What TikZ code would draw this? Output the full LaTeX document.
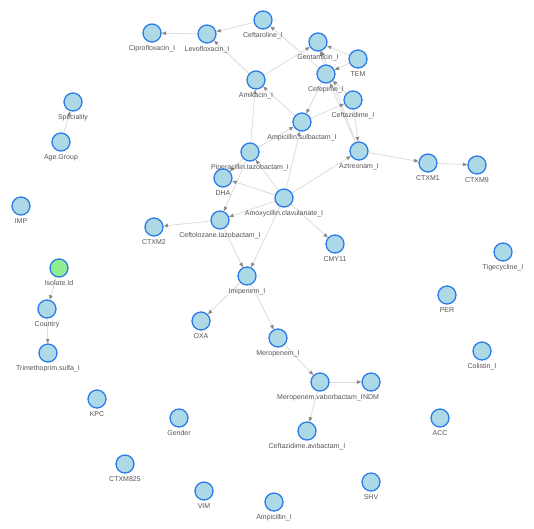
\documentclass[tikz,border=0pt]{standalone}
\usepackage{fontspec}
\setmainfont{Liberation Sans}
\usetikzlibrary{arrows.meta}
\definecolor{nfill}{HTML}{ADD8E6}
\definecolor{nborder}{HTML}{2B7CE9}
\definecolor{gfill}{HTML}{90EE90}
\definecolor{edgec}{HTML}{DCDCDC}
\definecolor{tipc}{HTML}{8A8A8A}
\definecolor{lblc}{HTML}{555555}
\pgfdeclarelayer{bg}
\pgfsetlayers{bg,main}
\begin{document}
\begin{tikzpicture}[x=1pt,y=-1pt,
  nd/.style={circle,draw=nborder,fill=nfill,line width=1.3pt,minimum size=18pt,inner sep=0pt},
  gnd/.style={nd,fill=gfill},
  lbl/.style={font=\fontsize{7}{8}\selectfont,text=lblc,inner sep=0pt,text height=5pt,text depth=1.5pt,label distance=3pt},
  ed/.style={draw=edgec,line width=0.8pt,-{Triangle[length=4.5pt,width=3.6pt,color=tipc]}}]
\useasboundingbox (0,0) rectangle (534,528);
\node[nd,label={[lbl]below:Ciprofloxacin\_I}] (cip) at (152,33) {};
\node[nd,label={[lbl]below:Levofloxacin\_I}] (levo) at (207,34) {};
\node[nd,label={[lbl]below:Ceftaroline\_I}] (ctar) at (263,20) {};
\node[nd,label={[lbl]below:Gentamicin\_I}] (gen) at (318,42) {};
\node[nd,label={[lbl]below:TEM}] (tem) at (358,59) {};
\node[nd,label={[lbl]below:Cefepime\_I}] (cfp) at (326,74) {};
\node[nd,label={[lbl]below:Amikacin\_I}] (ami) at (256,80) {};
\node[nd,label={[lbl]below:Ceftazidime\_I}] (cfz) at (353,100) {};
\node[nd,label={[lbl]below:Ampicillin.sulbactam\_I}] (amps) at (302,122) {};
\node[nd,label={[lbl]below:Piperacillin.tazobactam\_I}] (pip) at (250,152) {};
\node[nd,label={[lbl]below:Aztreonam\_I}] (azt) at (359,151) {};
\node[nd,label={[lbl]below:CTXM1}] (ctxma) at (428,163) {};
\node[nd,label={[lbl]below:CTXM9}] (ctxmb) at (477,165) {};
\node[nd,label={[lbl]below:DHA}] (dha) at (223,178) {};
\node[nd,label={[lbl]below:Amoxycillin.clavulanate\_I}] (amox) at (284,198) {};
\node[nd,label={[lbl]below:Ceftolozane.tazobactam\_I}] (ctol) at (220,220) {};
\node[nd,label={[lbl]below:CTXM2}] (ctxmc) at (154,227) {};
\node[nd,label={[lbl]below:CMY11}] (cmy) at (335,244) {};
\node[nd,label={[lbl]below:Imipenem\_I}] (imi) at (247,276) {};
\node[nd,label={[lbl]below:OXA}] (oxa) at (201,321) {};
\node[nd,label={[lbl]below:Meropenem\_I}] (mer) at (278,338) {};
\node[nd,label={[lbl]below:Meropenem.vaborbactam\_I}] (merv) at (320,382) {};
\node[nd,label={[lbl]below:NDM}] (ndm) at (371,382) {};
\node[nd,label={[lbl]below:Ceftazidime.avibactam\_I}] (cza) at (307,431) {};
\node[nd,label={[lbl]below:Speciality}] (spec) at (73,102) {};
\node[nd,label={[lbl]below:Age.Group}] (age) at (61,142) {};
\node[nd,label={[lbl]below:IMP}] (imp) at (21,206) {};
\node[gnd,label={[lbl]below:Isolate.Id}] (iso) at (59,268) {};
\node[nd,label={[lbl]below:Country}] (cty) at (47,309) {};
\node[nd,label={[lbl]below:Trimethoprim.sulfa\_I}] (tms) at (48,353) {};
\node[nd,label={[lbl]below:KPC}] (kpc) at (97,399) {};
\node[nd,label={[lbl]below:Gender}] (gend) at (179,418) {};
\node[nd,label={[lbl]below:CTXM825}] (ctxmd) at (125,464) {};
\node[nd,label={[lbl]below:VIM}] (vim) at (204,491) {};
\node[nd,label={[lbl]below:Ampicillin\_I}] (ampi) at (274,502) {};
\node[nd,label={[lbl]below:SHV}] (shv) at (371,482) {};
\node[nd,label={[lbl]below:ACC}] (acc) at (440,418) {};
\node[nd,label={[lbl]below:Colistin\_I}] (col) at (482,351) {};
\node[nd,label={[lbl]below:PER}] (per) at (447,295) {};
\node[nd,label={[lbl]below:Tigecycline\_I}] (tig) at (503,252) {};
\begin{pgfonlayer}{bg}
\path[ed] (levo) -- (cip);
\path[ed] (ctar) -- (levo);
\path[ed] (ami) -- (levo);
\path[ed] (ami) -- (gen);
\path[ed] (tem) -- (gen);
\path[ed] (tem) -- (cfp);
\path[ed] (cfp) -- (gen);
\path[ed] (azt) -- (gen);
\path[ed] (cfz) -- (cfp);
\path[ed] (azt) -- (cfp);
\path[ed] (cfp) -- (ctar);
\path[ed] (cfp) -- (amps);
\path[ed] (amps) -- (cfz);
\path[ed] (amps) -- (ami);
\path[ed] (pip) -- (ami);
\path[ed] (pip) -- (amps);
\path[ed] (pip) -- (dha);
\path[ed] (pip) -- (ctol);
\path[ed] (amox) -- (pip);
\path[ed] (amox) -- (amps);
\path[ed] (amox) -- (dha);
\path[ed] (amox) -- (ctol);
\path[ed] (amox) -- (cmy);
\path[ed] (amox) -- (azt);
\path[ed] (amox) -- (imi);
\path[ed] (ctol) -- (imi);
\path[ed] (ctol) -- (ctxmc);
\path[ed] (cfz) -- (azt);
\path[ed] (azt) -- (ctxma);
\path[ed] (ctxma) -- (ctxmb);
\path[ed] (imi) -- (oxa);
\path[ed] (imi) -- (mer);
\path[ed] (mer) -- (merv);
\path[ed] (merv) -- (ndm);
\path[ed] (merv) -- (cza);
\path[ed] (age) -- (spec);
\path[ed] (iso) -- (cty);
\path[ed] (cty) -- (tms);
\end{pgfonlayer}
\end{tikzpicture}
\end{document}
